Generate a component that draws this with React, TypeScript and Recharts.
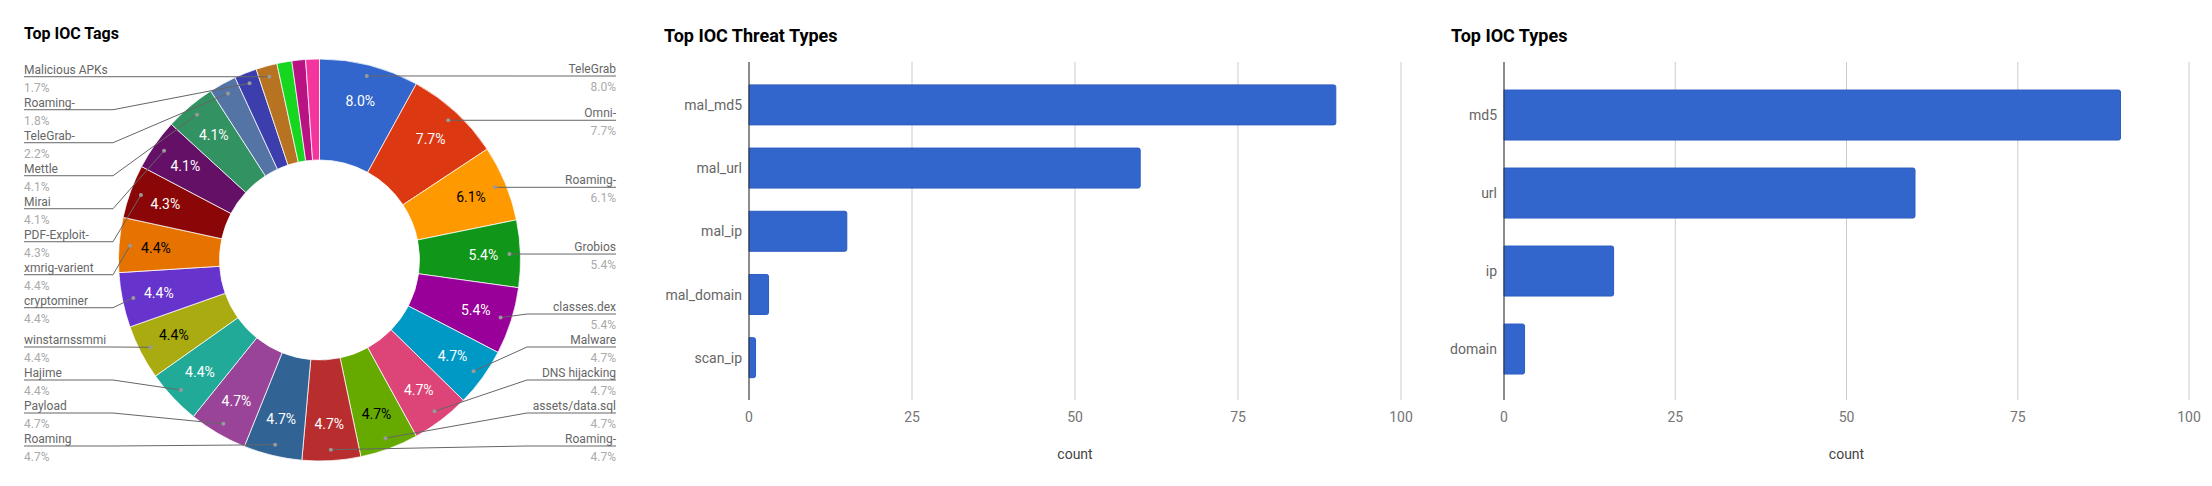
import React from "react"
import {
  PieChart,
  Pie,
  Cell,
  BarChart,
  Bar,
  XAxis,
  YAxis,
  CartesianGrid,
  Label,
} from "recharts"

// ---- data ----
const tagNames = [
  "TeleGrab", "Omni-", "Roaming-", "Grobios", "classes.dex", "Malware",
  "DNS hijacking", "assets/data.sql", "Roaming-", "Roaming", "Payload", "Hajime",
  "winstarnssmmi", "cryptominer", "xmrig-varient", "PDF-Exploit-", "Mirai", "Mettle",
  "TeleGrab-", "Roaming-", "Malicious APKs", "", "", "",
]
const tagShares = [
  8.0, 7.7, 6.1, 5.4, 5.4, 4.7, 4.7, 4.7, 4.7, 4.7, 4.7, 4.4,
  4.4, 4.4, 4.4, 4.3, 4.1, 4.1, 2.2, 1.8, 1.7, 1.2, 1.1, 1.1,
]
const tagColors = [
  "#3366cc", "#dc3912", "#ff9900", "#109618", "#990099", "#0099c6",
  "#dd4477", "#66aa00", "#b82e2e", "#316395", "#994499", "#22aa99",
  "#aaaa11", "#6633cc", "#e67300", "#8b0707", "#651067", "#329262",
  "#5574a6", "#3b3eac", "#b77322", "#16d620", "#b91383", "#f4359e",
]
const darkTextColors = new Set(["#ff9900", "#66aa00", "#aaaa11", "#e67300"])

const threatTypes = ["mal_md5", "mal_url", "mal_ip", "mal_domain", "scan_ip"]
const threatCounts = [90, 60, 15, 3, 1]

const iocTypes = ["md5", "url", "ip", "domain"]
const iocCounts = [90, 60, 16, 3]

const countTicks = [0, 25, 50, 75, 100]

const tagData = tagNames.map((name, i) => ({ name, value: tagShares[i] }))
const threatData = threatTypes.map((name, i) => ({ name, count: threatCounts[i] }))
const iocData = iocTypes.map((name, i) => ({ name, count: iocCounts[i] }))

// ---- pie label layout (google-charts style stacked labels) ----
const FONT = "Roboto, 'Noto Sans', sans-serif"
const RAD = Math.PI / 180
const PIE_CX = 319.5
const PIE_CY = 260
const R_OUT = 201
const R_IN = 100
const DOT_R = 190
const TEXT_R = 164
const LABEL_GAP = 33
const LABEL_TOP = 76
const LABEL_BOTTOM = 446

const total = tagShares.reduce((a, b) => a + b, 0)
const midDeg: number[] = []
{
  let cum = 0
  tagShares.forEach((v) => {
    midDeg.push(((cum + v / 2) / total) * 360)
    cum += v
  })
}

const labelY: number[] = tagShares.map(() => 0)
function layoutSide(indices: number[]) {
  const items = indices
    .map((i) => ({ i, y: PIE_CY - DOT_R * Math.cos(midDeg[i] * RAD) }))
    .sort((a, b) => a.y - b.y)
  let prev = -Infinity
  items.forEach((it) => {
    it.y = Math.max(it.y, prev + LABEL_GAP, LABEL_TOP)
    prev = it.y
  })
  let next = Infinity
  for (let k = items.length - 1; k >= 0; k--) {
    items[k].y = Math.min(items[k].y, next - LABEL_GAP, LABEL_BOTTOM)
    next = items[k].y
  }
  items.forEach((it) => (labelY[it.i] = it.y))
}
const labelled = tagNames.map((n, i) => i).filter((i) => tagNames[i] !== "")
layoutSide(labelled.filter((i) => midDeg[i] < 180))
layoutSide(labelled.filter((i) => midDeg[i] >= 180))

const renderTagLabel = (props: any) => {
  const { cx, cy, midAngle, index, percent } = props
  const a = -midAngle * RAD
  const pct = `${(percent * 100).toFixed(1)}%`
  const name = tagNames[index]
  const inner =
    tagShares[index] >= 4 ? (
      <text
        x={cx + TEXT_R * Math.cos(a)}
        y={cy + TEXT_R * Math.sin(a)}
        dy="0.35em"
        textAnchor="middle"
        fontSize={14}
        fontFamily={FONT}
        fill={darkTextColors.has(tagColors[index]) ? "#000" : "#fff"}
      >
        {pct}
      </text>
    ) : null
  if (!name) return <g>{inner}</g>

  const dx = cx + DOT_R * Math.cos(a)
  const dy = cy + DOT_R * Math.sin(a)
  const right = midDeg[index] < 180
  const ly = labelY[index]
  const bendX = right ? cx + 207.5 : cx - 206.5
  const endX = right ? cx + 296.5 : cx - 295.5
  const anchor = right ? "end" : "start"
  return (
    <g>
      {inner}
      <polyline
        points={`${dx},${dy} ${bendX},${ly} ${endX},${ly}`}
        fill="none"
        stroke="#666"
        strokeWidth={1}
      />
      <circle cx={dx} cy={dy} r={2} fill="#999" />
      <text x={endX} y={ly - 3} textAnchor={anchor} fontSize={12} fontFamily={FONT} fill="#666">
        {name}
      </text>
      <text x={endX} y={ly + 15} textAnchor={anchor} fontSize={12} fontFamily={FONT} fill="#aaa">
        {pct}
      </text>
    </g>
  )
}

// ---- bar panel ----
function CountBars({
  data,
  width,
  yAxisWidth,
  left,
  right,
  padTop,
  padBottom,
}: {
  data: { name: string; count: number }[]
  width: number
  yAxisWidth: number
  left: number
  right: number
  padTop: number
  padBottom: number
}) {
  return (
    <BarChart
      width={width}
      height={486}
      data={data}
      layout="vertical"
      margin={{ top: 62, right, left, bottom: 0 }}
      barCategoryGap="18%"
    >
      <CartesianGrid horizontal={false} stroke="#ccc" />
      <XAxis
        type="number"
        domain={[0, 100]}
        ticks={countTicks}
        axisLine={false}
        tickLine={false}
        tickSize={0}
        tickMargin={12}
        height={86}
        tick={{ fontSize: 14, fill: "#757575", fontFamily: FONT }}
      >
        <Label
          value="count"
          position="insideBottom"
          offset={27}
          style={{ fontSize: 14, fill: "#444", fontFamily: FONT }}
        />
      </XAxis>
      <YAxis
        type="category"
        dataKey="name"
        width={yAxisWidth}
        padding={{ top: padTop, bottom: padBottom }}
        axisLine={{ stroke: "#333" }}
        tickLine={false}
        tickSize={0}
        tickMargin={7}
        tick={{ fontSize: 14, fill: "#666", fontFamily: FONT }}
      />
      <Bar
        dataKey="count"
        fill="#3366cc"
        stroke="#2d5cc0"
        strokeWidth={1}
        radius={[0, 2, 2, 0]}
        isAnimationActive={false}
      />
    </BarChart>
  )
}

export default function App() {
  return (
    <div style={{ position: "absolute", left: 0, top: 0, width: 2212, height: 486, background: "#fff" }}>
      <div style={{ position: "absolute", left: 0, top: 0 }}>
        <PieChart width={640} height={486} margin={{ top: 0, right: 0, bottom: 0, left: 0 }}>
          <Pie
            data={tagData}
            dataKey="value"
            nameKey="name"
            cx={PIE_CX}
            cy={PIE_CY}
            innerRadius={R_IN}
            outerRadius={R_OUT}
            startAngle={90}
            endAngle={-270}
            stroke="#fff"
            strokeWidth={0.75}
            label={renderTagLabel}
            labelLine={false}
            isAnimationActive={false}
          >
            {tagData.map((d, i) => (
              <Cell key={i} fill={tagColors[i]} />
            ))}
          </Pie>
        </PieChart>
      </div>
      <div style={{ position: "absolute", left: 640, top: 0 }}>
        <CountBars
          data={threatData}
          width={800}
          yAxisWidth={100}
          left={9}
          right={39}
          padTop={11.5}
          padBottom={10.5}
        />
      </div>
      <div style={{ position: "absolute", left: 1440, top: 0 }}>
        <CountBars
          data={iocData}
          width={772}
          yAxisWidth={60}
          left={4}
          right={23}
          padTop={14}
          padBottom={12}
        />
      </div>
      <svg
        width={2212}
        height={486}
        style={{ position: "absolute", left: 0, top: 0, pointerEvents: "none" }}
      >
        <text x={24} y={39} fontSize={16} fontWeight="bold" fontFamily={FONT} fill="#000">
          Top IOC Tags
        </text>
        <text x={664} y={41.5} fontSize={18} fontWeight="bold" fontFamily={FONT} fill="#000">
          Top IOC Threat Types
        </text>
        <text x={1451} y={41.5} fontSize={18} fontWeight="bold" fontFamily={FONT} fill="#000">
          Top IOC Types
        </text>
      </svg>
    </div>
  )
}
